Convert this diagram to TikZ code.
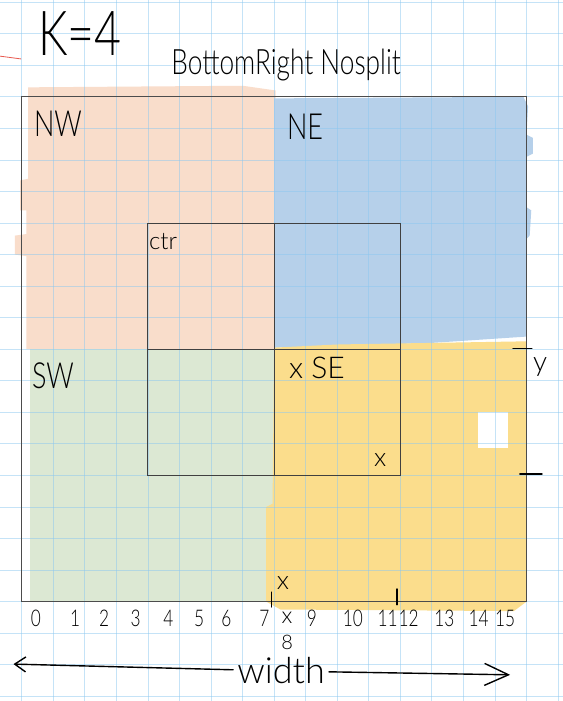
\documentclass[tikz,border=0pt]{standalone}
\usepackage{fontspec}
\usepackage{graphicx}
\setmainfont{Lato Light}
\usetikzlibrary{arrows.meta}

\definecolor{nwpeach}{RGB}{249,221,203}
\definecolor{neblue}{RGB}{182,208,234}
\definecolor{swgreen}{RGB}{220,232,211}
\definecolor{seyellow}{RGB}{251,221,140}
\definecolor{gridblue}{RGB}{140,200,240}
\definecolor{penred}{RGB}{232,90,80}

% squeeze handwriting-like text a little
\newcommand{\handtext}[1]{\scalebox{0.75}[1]{#1}}

\tikzset{
    gridline/.style={gridblue, opacity=0.5, line width=0.8pt},
    boxline/.style={draw=black!70, line width=1.1pt},
    quadlbl/.style={inner sep=0pt, font=\fontsize{36}{36}\selectfont},
    smalllbl/.style={inner sep=0pt, font=\fontsize{26}{26}\selectfont},
    num/.style={inner sep=0pt, font=\fontsize{23}{23}\selectfont},
    pen/.style={line width=1.4pt, line cap=round},
    handarrow/.style={pen, -{Straight Barb[length=24pt, width=22pt]}},
    handarrowl/.style={pen, -{Straight Barb[length=11pt, width=15pt]}}
}

\begin{document}
\begin{tikzpicture}[x=31.55pt, y=-31.55pt]
    \useasboundingbox (-0.688,-3.068) rectangle (17.125,19.15);
    \fill[white] (-0.688,-3.068) rectangle (17.125,19.15);

    % quadrant colours
    \fill[nwpeach] (0.2,-0.3) -- (7.0,-0.35) -- (8.05,-0.2) -- (8.05,8.0)
        -- (0.15,8.0) -- (0.15,5.05) -- (-0.22,5.0) -- (-0.22,4.4)
        -- (0.15,4.35) -- (0.15,3.6) -- (-0.05,3.6) -- (-0.05,2.65)
        -- (0.2,2.6) -- cycle;
    \fill[neblue] (8.0,0.05) -- (15.9,0.0) -- (16.05,0.3) -- (16.0,1.2)
        -- (16.2,1.3) -- (16.2,1.8) -- (16.0,1.9) -- (16.0,3.5)
        -- (16.15,3.6) -- (16.1,4.4) -- (16.0,4.5) -- (16.0,7.6)
        -- (13,7.8) -- (10,7.9) -- (8.0,7.95) -- cycle;
    \fill[swgreen] (0.25,8.0) rectangle (8.0,16.0);
    \fill[seyellow] (8.0,7.95) -- (10,7.85) -- (13,7.8) -- (16.0,7.75)
        -- (16.0,16.0) -- (15.6,16.3) -- (8.2,16.25) -- (7.75,16.0)
        -- (7.75,13.0) -- (7.95,12.9) -- cycle;
    \fill[white] (14.46,9.99) rectangle (15.41,11.13);

    % squared paper
    \foreach \i in {0,...,17}
        \draw[gridline] (\i,-3.1) -- (\i,19.2);
    \foreach \j in {-3,...,19}
        \draw[gridline] (-0.7,\j) -- (17.2,\j);

    \draw[penred, line width=0.8pt] (-0.7,-1.29) -- (-0.02,-1.2);

    % k and title
    \node[inner sep=0pt, font=\fontsize{62}{62}\selectfont] (kval) at (1.85,-2.02) {\handtext{K=4}};
    \node[inner sep=0pt, font=\fontsize{35}{35}\selectfont] (title) at (8.38,-1.0) {\handtext{BottomRight Nosplit}};

    % whole region and ctr box
    \node[boxline, minimum width=504.8pt, minimum height=504.8pt, inner sep=0pt] (world) at (8,8) {};
    \node[boxline, draw=black!75, line width=0.9pt, minimum width=252.4pt, minimum height=252.4pt, inner sep=0pt] (ctrbox) at (8,8) {};
    \draw[black!75, line width=0.9pt] (ctrbox.north) -- (ctrbox.south);
    \draw[black!75, line width=0.9pt] (ctrbox.west) -- (ctrbox.east);

    % quadrant labels
    \node[quadlbl] (nw) at (1.15,0.85) {\handtext{NW}};
    \node[quadlbl] (ne) at (8.98,0.96) {\handtext{NE}};
    \node[quadlbl] (sw) at (0.99,8.85) {\handtext{SW}};
    \node[quadlbl, font=\fontsize{30}{30}\selectfont] (se) at (9.36,8.6) {x SE};
    \node[smalllbl, font=\fontsize{24}{24}\selectfont] (ctr) at (4.48,4.6) {ctr};
    \node[smalllbl] (ctrx) at (11.36,11.51) {x};
    \node[smalllbl] (bottomx) at (8.28,15.41) {x};

    % marks on the right side
    \draw[pen] (15.57,7.97) -- (16.17,7.97);
    \draw[pen] (15.79,11.95) -- (16.49,11.95);
    \node[smalllbl, font=\fontsize{28}{28}\selectfont] (ylbl) at (16.43,8.56) {y};

    % marks on the bottom side
    \draw[pen] (7.92,15.7) -- (7.92,16.17);
    \draw[pen] (11.89,15.6) -- (11.89,16.1);

    % axis numbers
    \foreach \n/\xx in {0/0.45, 1/1.69, 2/2.61, 3/3.61, 4/4.65, 5/5.62, 6/6.49,
        7/7.69, 9/9.2, 10/10.5, 11/11.6, 12/12.26, 13/13.4, 14/14.48, 15/15.32}
        \node[num] (n\n) at (\xx,16.52) {\handtext{\n}};
    \node[num] (n8x) at (8.41,16.52) {x};
    \node[num, font=\fontsize{20}{20}\selectfont] (n8) at (8.41,17.28) {8};

    % width
    \node[inner sep=4pt, font=\fontsize{36}{36}\selectfont] (widthlbl) at (8.22,18.2) {width};
    \coordinate (wleft) at (-0.26,17.98);
    \coordinate (wright) at (15.48,18.32);
    \draw[handarrowl] (widthlbl) -- (wleft);
    \draw[handarrow] (widthlbl) -- (wright);
\end{tikzpicture}
\end{document}
